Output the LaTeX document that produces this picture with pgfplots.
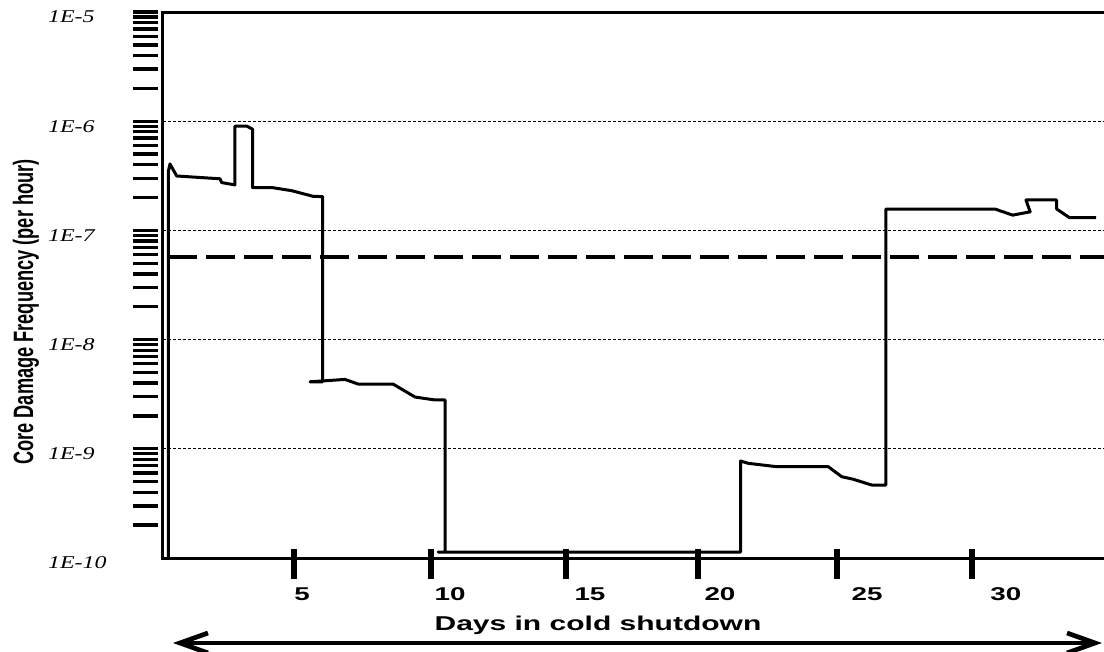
\documentclass[border=0pt]{standalone}
\usepackage{fontspec}
\usepackage{pgfplots}
\pgfplotsset{compat=1.18}
\usetikzlibrary{arrows.meta}
\newfontfamily\labfont[FakeStretch=1.5]{Liberation Sans}
\newfontfamily\ylabfont[FakeStretch=0.65]{Liberation Sans}
\newfontfamily\ytickfont[FakeStretch=1.33]{Liberation Serif}
\begin{document}
\begin{tikzpicture}
\useasboundingbox (0,0) rectangle (552pt,326pt);
\begin{axis}[
  scale only axis,
  width=472.5pt, height=273pt,
  at={(81.5pt,47pt)}, anchor=south west,
  ymode=log,
  xmin=0.0709, xmax=33.58,
  ymin=1e-10, ymax=1e-5,
  axis line style={line width=1.5pt},
  tick pos=left,
  tick align=outside,
  major tick length=12.5pt,
  tick style={black},
  every major x tick/.style={line width=3pt, line cap=rect, yshift=3.25pt},
  every major y tick/.style={line width=1.65pt, xshift=-2.5pt},
  xtick={4.716,9.574,14.36,19.04,23.97,28.76},
  xticklabels={},
  ytick={2e-10,3e-10,4e-10,5e-10,6e-10,7e-10,8e-10,9e-10,
    1e-9,2e-9,3e-9,4e-9,5e-9,6e-9,7e-9,8e-9,9e-9,
    1e-8,2e-8,3e-8,4e-8,5e-8,6e-8,7e-8,8e-8,9e-8,
    1e-7,2e-7,3e-7,4e-7,5e-7,6e-7,7e-7,8e-7,9e-7,
    1e-6,2e-6,3e-6,4e-6,5e-6,6e-6,7e-6,8e-6,9e-6,1e-5},
  yticklabels={},
  minor ytick={},
  extra x ticks={5,10.25,15.21,19.82,25.04,29.96},
  extra x tick labels={5,10,15,20,25,30},
  extra x tick style={major tick length=0pt, grid=none},
  extra y ticks={1e-10,1e-9,1e-8,1e-7,1e-6,1e-5},
  extra y tick labels={1E-10,1E-9,1E-8,1E-7,1E-6,1E-5},
  extra y tick style={major tick length=0pt, grid=major},
  xticklabel style={font=\fontsize{9.25pt}{10pt}\labfont\bfseries, anchor=north, yshift=-11.5pt},
  yticklabel style={font=\fontsize{9pt}{10pt}\ytickfont\itshape, anchor=west, xshift=-61pt, yshift=-2.5pt},
  major grid style={black, line width=0.5pt, dash pattern=on 1.7pt off 0.8pt},
  xlabel={Days in cold shutdown},
  xlabel style={font=\fontsize{10pt}{12pt}\labfont\bfseries, at={(axis description cs:0.4603,-0.1227)}, anchor=center},
  ylabel={Core Damage Frequency (per hour)},
  ylabel style={font=\fontsize{14pt}{16pt}\ylabfont\bfseries, at={(axis description cs:-0.145,0.4505)}, anchor=center},
  clip=false,
]
\addplot[black, line width=1.5pt, line join=round] table {
x y
0.259 1e-10
0.259 3.45e-7
0.319 4.06e-7
0.557 3.15e-7
2.092 2.97e-7
2.152 2.74e-7
2.624 2.61e-7
2.624 9.03e-7
3.039 9.03e-7
3.252 8.43e-7
3.252 2.46e-7
3.926 2.47e-7
4.635 2.31e-7
5.401 2.05e-7
5.734 2.04e-7
5.734 4.11e-9
5.284 4.11e-9
5.709 4.18e-9
6.525 4.32e-9
6.986 3.92e-9
8.227 3.92e-9
9.007 2.98e-9
9.716 2.80e-9
10.071 2.80e-9
10.071 1.135e-10
9.823 1.135e-10
20.55 1.135e-10
20.55 7.73e-10
20.826 7.36e-10
21.83 6.86e-10
23.66 6.86e-10
24.14 5.55e-10
24.55 5.26e-10
25.20 4.66e-10
25.70 4.66e-10
25.70 1.57e-7
29.57 1.57e-7
30.20 1.38e-7
30.82 1.48e-7
30.67 1.90e-7
31.76 1.90e-7
31.76 1.57e-7
32.21 1.31e-7
33.16 1.31e-7
};
\addplot[black, line width=2.25pt, dash pattern=on 14.5pt off 4.5pt] coordinates {(0.26,5.7e-8) (33.6,5.7e-8)};
\end{axis}
\draw[line width=2.35pt, {Straight Barb[length=14pt,width=10pt]}-{Straight Barb[length=14pt,width=10pt]}] (86.5pt,4.5pt) -- (551pt,4.5pt);
\end{tikzpicture}
\end{document}
